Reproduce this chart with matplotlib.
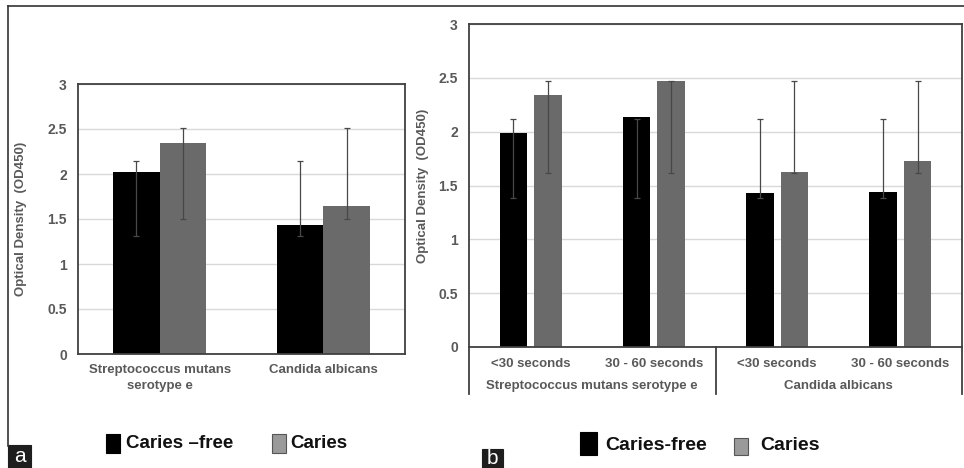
import matplotlib
matplotlib.use("Agg")
import matplotlib.pyplot as plt
import numpy as np
from matplotlib.patches import Rectangle
from matplotlib.lines import Line2D

# ---------------- data ----------------
categories_a = ["Streptococcus mutans\nserotype e", "Candida albicans"]
free_a = [2.02, 1.43]
free_a_low = [1.31, 1.31]
free_a_high = [2.15, 2.15]
caries_a = [2.35, 1.64]
caries_a_low = [1.50, 1.50]
caries_a_high = [2.51, 2.51]

sub_b = ["<30 seconds", "30 - 60 seconds", "<30 seconds", "30 - 60 seconds"]
groups_b = ["Streptococcus mutans serotype e", "Candida albicans"]
free_b = [1.99, 2.14, 1.43, 1.44]
free_b_low = [1.38, 1.38, 1.38, 1.38]
free_b_high = [2.12, 2.12, 2.12, 2.12]
caries_b = [2.34, 2.47, 1.625, 1.73]
caries_b_low = [1.62, 1.62, 1.62, 1.62]
caries_b_high = [2.47, 2.47, 2.47, 2.47]

legend_a = ["Caries \u2013free", "Caries"]
legend_b = ["Caries-free", "Caries"]
y_ticks = [0, 0.5, 1, 1.5, 2, 2.5, 3]
y_label = "Optical Density  (OD450)"

# ---------------- style ----------------
W, H = 964, 468
BLACK = "#000000"
GRAY = "#6a6a6a"
LEG_GRAY = "#9a9a9a"
TXT = "#595959"
SPINE = "#404040"
GRID = "#d9d9d9"
ERR = "#484848"
FONT = ["Liberation Sans", "DejaVu Sans"]

plt.rcParams["font.family"] = FONT

fig = plt.figure(figsize=(W / 100, H / 100), dpi=100)


def fx(x):
    return x / W


def fy(y):
    return 1 - y / H


def axes_px(l, t, r, b):
    return [fx(l), fy(b), (r - l) / W, (b - t) / H]


def style_axes(ax):
    ax.set_ylim(0, 3)
    ax.set_yticks(y_ticks)
    ax.set_yticklabels([f"{v:g}" for v in y_ticks])
    ax.yaxis.grid(True, color=GRID, lw=1.0)
    ax.set_axisbelow(True)
    for s in ax.spines.values():
        s.set_color(SPINE)
        s.set_linewidth(1.3)
    ax.tick_params(axis="y", length=0, pad=8, labelsize=10, labelcolor=TXT)
    ax.tick_params(axis="x", length=0, labelsize=9.5, labelcolor=TXT)
    for lab in ax.get_yticklabels():
        lab.set_fontweight("bold")
    ax.set_ylabel(y_label, fontsize=9.5, color=TXT, fontweight="bold")


def err(ax, x, low, high):
    low = np.array(low)
    high = np.array(high)
    mid = (low + high) / 2
    ax.errorbar(x, mid, yerr=(high - low) / 2, fmt="none", ecolor=ERR,
                elinewidth=0.9, capsize=2.5, capthick=0.9, zorder=3)


# ---------------- panel a ----------------
axa = fig.add_axes(axes_px(78, 84, 405, 354))
xa = np.arange(len(categories_a))
wa = 0.285
axa.bar(xa - wa / 2, free_a, wa, color=BLACK, zorder=2)
axa.bar(xa + wa / 2, caries_a, wa, color=GRAY, zorder=2)
err(axa, xa - wa / 2, free_a_low, free_a_high)
err(axa, xa + wa / 2, caries_a_low, caries_a_high)
axa.set_xlim(-0.5, len(categories_a) - 0.5)
style_axes(axa)
axa.set_xticks(xa)
axa.set_xticklabels(categories_a, fontweight="bold", linespacing=1.45)
axa.tick_params(axis="x", pad=7.5)
axa.yaxis.set_label_coords((27 - 78) / 327, 0.5)

# ---------------- panel b ----------------
axb = fig.add_axes(axes_px(469, 24, 962, 347))
xb = np.arange(len(sub_b))
wb = 0.222
off = 0.14
axb.bar(xb - off, free_b, wb, color=BLACK, zorder=2)
axb.bar(xb + off, caries_b, wb, color=GRAY, zorder=2)
err(axb, xb - off, free_b_low, free_b_high)
err(axb, xb + off, caries_b_low, caries_b_high)
axb.set_xlim(-0.5, len(sub_b) - 0.5)
style_axes(axb)
axb.set_xticks(xb)
axb.set_xticklabels(sub_b, fontweight="bold")
axb.tick_params(axis="x", pad=8)
axb.yaxis.set_label_coords((429 - 469) / 493, 0.5)

# group labels and separators
trans = axb.get_xaxis_transform()
n_sub = len(sub_b) // len(groups_b)
for gi, g in enumerate(groups_b):
    center = gi * n_sub + (n_sub - 1) / 2
    axb.text(center, -(386 - 347) / 323, g, transform=trans, ha="center", va="center",
             fontsize=9.5, color=TXT, fontweight="bold")
for sx in [-0.5 + gi * n_sub for gi in range(len(groups_b) + 1)]:
    axb.add_line(Line2D([sx, sx], [0, -(394 - 347) / 323], transform=trans,
                        color=SPINE, lw=1.3, clip_on=False))

# ---------------- frame lines ----------------
fig.add_artist(Line2D([fx(8), fx(964)], [fy(6), fy(6)], color="#333333", lw=1.2))
fig.add_artist(Line2D([fx(8), fx(8)], [fy(6), fy(446)], color="#333333", lw=1.2))

# ---------------- legends ----------------
def rect(l, t, r, b, color, ec=None):
    fig.add_artist(Rectangle((fx(l), fy(b)), (r - l) / W, (b - t) / H,
                             facecolor=color, edgecolor=ec if ec else color,
                             lw=0.8, transform=fig.transFigure))


rect(106, 434, 120, 453, BLACK)
fig.text(fx(126), fy(443), legend_a[0], ha="left", va="center", fontsize=13.5,
         fontweight="bold", color="#111111")
rect(272, 434, 286, 453, LEG_GRAY, "#555555")
fig.text(fx(290), fy(443), legend_a[1], ha="left", va="center", fontsize=13.5,
         fontweight="bold", color="#111111")

rect(580, 432, 597, 455, BLACK)
fig.text(fx(605), fy(446), legend_b[0], ha="left", va="center", fontsize=14,
         fontweight="bold", color="#111111")
rect(734, 438, 748, 455, LEG_GRAY, "#555555")
fig.text(fx(760), fy(446), legend_b[1], ha="left", va="center", fontsize=14,
         fontweight="bold", color="#111111")

# ---------------- panel letters ----------------
rect(8, 445, 31, 468, "#1e1e1e")
fig.text(fx(19.5), fy(456), "a", ha="center", va="center", fontsize=15, color="white")
rect(482, 449, 503, 468, "#1e1e1e")
fig.text(fx(492.5), fy(458), "b", ha="center", va="center", fontsize=15, color="white")

fig.savefig("out.png", dpi=100)
